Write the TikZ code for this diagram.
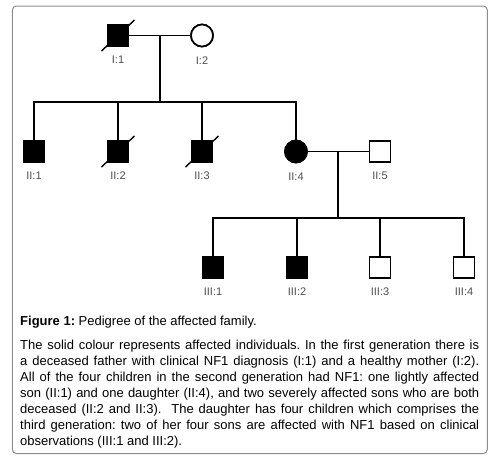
\documentclass[tikz,border=0pt]{standalone}
\usepackage{fontspec}
\setmainfont{Liberation Sans}
\usetikzlibrary{positioning,calc}
\definecolor{Frame}{HTML}{8C8C8C}
\definecolor{Tag}{HTML}{4D4D4D}

\begin{document}
\frenchspacing
\begin{tikzpicture}[x=1pt,y=-1pt,
    male/.style={rectangle,draw,line width=1.7pt,minimum size=21pt,inner sep=0pt},
    female/.style={circle,draw,line width=1.7pt,minimum size=22pt,inner sep=0pt},
    aff/.style={fill=black},
    tag/.style={font=\fontsize{11}{12}\selectfont,text=Tag,inner sep=0pt},
    link/.style={line width=1.7pt},
    dead/.style={line width=1.4pt}
  ]
    \useasboundingbox (0,0) rectangle (496,464);
    \draw[Frame,line width=1pt,rounded corners=4pt] (12.3,6) rectangle (487.3,453.5);
    % generation I
    \node[male,aff] (I1) at (118,35.5) {};
    \node[female] (I2) at (202,35.5) {};
    \node[tag,below=9pt of I1] (tI1) {I:1};
    \node[tag,below=9pt of I2] (tI2) {I:2};
    % generation II
    \node[male,aff] (II1) at (34,151.5) {};
    \node[male,aff] (II2) at (118,151.5) {};
    \node[male,aff] (II3) at (202,151.5) {};
    \node[female,aff] (II4) at (296,151.5) {};
    \node[male] (II5) at (380,151.5) {};
    \foreach \n/\t in {II1/II:1,II2/II:2,II3/II:3,II4/II:4,II5/II:5}
      \node[tag,below=9pt of \n] (t\n) {\t};
    % generation III
    \node[male,aff] (III1) at (213,267.5) {};
    \node[male,aff] (III2) at (297,267.5) {};
    \node[male] (III3) at (380,267.5) {};
    \node[male] (III4) at (464,267.5) {};
    \foreach \n/\t in {III1/III:1,III2/III:2,III3/III:3,III4/III:4}
      \node[tag,below=9pt of \n] (t\n) {\t};
    % unions and sibships
    \coordinate (m1) at ($(I1)!0.5!(I2)$);
    \coordinate (s1) at ($(m1)+(0,66.5)$);
    \coordinate (m2) at ($(II4)!0.5!(II5)$);
    \coordinate (s2) at ($(m2)+(0,66.5)$);
    \draw[link] (I1) -- (I2);
    \draw[link] (m1) -- (s1);
    \draw[link] (II1.north) |- (s1) -| (II4.north);
    \foreach \n in {II2,II3}\draw[link] (\n.north) -- (\n.north |- s1);
    \draw[link] (II4) -- (II5);
    \draw[link] (m2) -- (s2);
    \draw[link] (III1.north) |- (s2) -| (III4.north);
    \foreach \n in {III2,III3}\draw[link] (\n.north) -- (\n.north |- s2);
    % redraw symbols over the links
    \foreach \n in {I1,II1,II2,II3,III1,III2}\node[male,aff] at (\n) {};
    \foreach \n in {II5,III3,III4}\node[male,fill=white] at (\n) {};
    \node[female,fill=white] at (I2) {};
    \node[female,aff] at (II4) {};
    % deceased
    \foreach \n in {I1,II2,II3}
      \draw[dead] ($(\n)+(-16.5,15.5)$) -- ($(\n)+(16.5,-15.5)$);
    % caption
    \node[anchor=base west,inner sep=0pt,font=\fontsize{13}{16.1}\selectfont] (cap) at (20,325.5)
      {\textbf{Figure 1:} Pedigree of the affected family.};
    \node[anchor=north west,inner sep=0pt,text width=459pt,align=justify,
      font=\fontsize{13}{16.1}\selectfont] (body) at (20,339.5)
      {The solid colour represents affected individuals. In the first generation there is\linebreak
       a deceased father with clinical NF1 diagnosis (I:1) and a healthy mother (I:2).\linebreak
       All of the four children in the second generation had NF1: one lightly affected\linebreak
       son (II:1) and one daughter (II:4), and two severely affected sons who are both\linebreak
       deceased (II:2 and II:3).\ \ The daughter has four children which comprises the\linebreak
       third generation: two of her four sons are affected with NF1 based on clinical\linebreak
       observations (III:1 and III:2).};
  \end{tikzpicture}
\end{document}
